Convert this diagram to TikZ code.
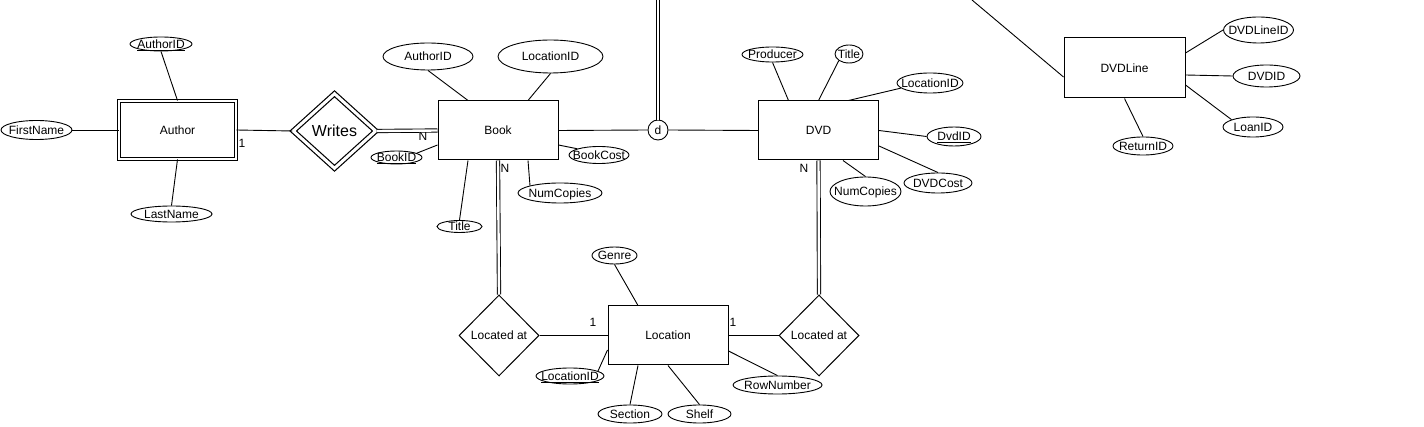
\documentclass[tikz,border=0pt]{standalone}
\usepackage{fontspec}
\setmainfont{Liberation Sans}
\usetikzlibrary{shapes.geometric}
\newcommand\ertxt[1]{\makebox[0pt]{\raisebox{-0.36em}[0pt][0pt]{#1}}}
\begin{document}
\begin{tikzpicture}[x=1pt,y=-1pt,
  every node/.style={font=\fontsize{12}{14}\selectfont},
  ent/.style={draw, rectangle, minimum width=120, minimum height=59, inner sep=0, line width=1pt},
  went/.style={ent, double, double distance=2pt, line width=0.9pt, minimum width=117, minimum height=58},
  attr/.style={draw, ellipse, inner sep=0, line width=0.9pt},
  rel/.style={draw, diamond, inner sep=0, minimum width=80, minimum height=81, line width=1pt},
  wrel/.style={draw, diamond, inner sep=0, double, double distance=3pt, line width=1.2pt, minimum width=83, minimum height=75, font=\fontsize{16}{18}\selectfont},
  conn/.style={line width=0.9pt},
  dconn/.style={line width=0.9pt, double, double distance=2.4pt},
  card/.style={inner sep=0}]
\fill[white] (0,0) rectangle (1424,427);
\useasboundingbox (0,0) rectangle (1424,427);

% Author
\node[went] (author) at (177.5,130) {Author};
\node[attr, minimum width=62, minimum height=14] (aid1) at (161,44) {\ertxt{\underline{AuthorID}}};
\node[attr, minimum width=71, minimum height=19] (fname) at (36.5,130) {\ertxt{FirstName}};
\node[attr, minimum width=81, minimum height=16] (lname) at (171.5,214) {\ertxt{LastName}};

% Writes
\node[wrel] (writes) at (334.5,131) {Writes};

% Book
\node[ent] (book) at (498,130.5) {Book};
\node[attr, minimum width=90, minimum height=27] (aid2) at (428,56.5) {\ertxt{AuthorID}};
\node[attr, minimum width=105, minimum height=33] (locid1) at (550.5,56.5) {\ertxt{LocationID}};
\node[attr, minimum width=51, minimum height=13] (bookid) at (396.5,157.5) {\ertxt{\underline{BookID}}};
\node[attr, minimum width=60, minimum height=17] (bookcost) at (599,155) {\ertxt{BookCost}};
\node[attr, minimum width=84, minimum height=20] (numc1) at (560,193) {\ertxt{NumCopies}};
\node[attr, minimum width=45, minimum height=12] (title1) at (459.5,226.5) {\ertxt{Title}};

% disjoint circle
\node[draw, circle, minimum size=20, inner sep=0, line width=0.9pt] (dcirc) at (658,130) {d};
\coordinate (top1) at (658,0);

% DVD
\node[ent] (dvd) at (818.5,130.5) {DVD};
\node[attr, minimum width=61, minimum height=15] (producer) at (772.5,54.5) {\ertxt{Producer}};
\node[attr, minimum width=28, minimum height=18] (title2) at (849,54) {\ertxt{Title}};
\node[attr, minimum width=66, minimum height=20] (locid2) at (930,83) {\ertxt{LocationID}};
\node[attr, minimum width=54, minimum height=19] (dvdid) at (954,136.5) {\ertxt{\underline{DvdID}}};
\node[attr, minimum width=68, minimum height=20] (dvdcost) at (938,183) {\ertxt{DVDCost}};
\node[attr, minimum width=71, minimum height=29] (numc2) at (865.5,191.5) {\ertxt{NumCopies}};

% DVDLine
\node[ent, minimum width=121, minimum height=60] (dvdline) at (1124.5,68) {DVDLine};
\coordinate (top2) at (972,0);
\node[attr, minimum width=70, minimum height=26] (dvdlid) at (1258.5,30) {\ertxt{DVDLineID}};
\node[attr, minimum width=67, minimum height=22] (dvdid2) at (1266.5,76) {\ertxt{DVDID}};
\node[attr, minimum width=60, minimum height=20] (loanid) at (1253,127) {\ertxt{LoanID}};
\node[attr, minimum width=60, minimum height=18] (returnid) at (1143,146) {\ertxt{ReturnID}};

% Location
\node[rel] (locat1) at (499,335.5) {Located at};
\node[ent] (location) at (668,335.5) {Location};
\node[rel] (locat2) at (819,335.5) {Located at};
\node[attr, minimum width=45, minimum height=17] (genre) at (614.5,255.5) {\ertxt{Genre}};
\node[attr, minimum width=68, minimum height=16] (locid3) at (570,376) {\ertxt{\underline{LocationID}}};
\node[attr, minimum width=64, minimum height=18] (section) at (630,414) {\ertxt{Section}};
\node[attr, minimum width=63, minimum height=18] (shelf) at (699.5,414) {\ertxt{Shelf}};
\node[attr, minimum width=89, minimum height=18] (rownum) at (777.5,385) {\ertxt{RowNumber}};

% cardinalities
\node[card] (c1) at (242,143.5) {1};
\node[card] (c2) at (423,136) {N};
\node[card] (c3) at (505,168) {N};
\node[card] (c4) at (804,168) {N};
\node[card] (c5) at (593,322) {1};
\node[card] (c6) at (733,322) {1};

% connectors: Author
\draw[conn] (aid1.south) -- (author.north);
\draw[conn] (fname.east) -- (author.west);
\draw[conn] (lname.north) -- (author.south);
\draw[conn] (author.east) -- (writes.west);
\draw[dconn] (writes.east) -- (book.west);

% Book
\draw[conn] (aid2.south) -- ([xshift=-30pt]book.north);
\draw[conn] (locid1.south) -- ([xshift=30pt]book.north);
\draw[conn] ([yshift=-14.5pt]book.west) -- (bookid.12);
\draw[conn] ([yshift=-14.5pt]book.east) -- (bookcost.164);
\draw[conn] ([xshift=30pt]book.south) -- (numc1.north west);
\draw[conn] ([xshift=-30pt]book.south) -- (title1.north);
\draw[dconn] (book.south) -- (locat1.north);
\draw[conn] (book.east) -- (dcirc.west);
\draw[dconn] (dcirc.north) -- (top1);
\draw[conn] (dcirc.east) -- (dvd.west);

% DVD
\draw[conn] (producer.south) -- ([xshift=-30pt]dvd.north);
\draw[conn] (title2.south west) -- (dvd.north);
\draw[conn] ([xshift=30pt]dvd.north) -- (locid2.190);
\draw[conn] (dvd.east) -- (dvdid.west);
\draw[conn] ([yshift=-15.5pt]dvd.east) -- (dvdcost.north);
\draw[conn] ([xshift=24.5pt]dvd.south) -- (numc2.north);
\draw[dconn] (dvd.south) -- (locat2.north);

% DVDLine
\draw[conn] (top2) -- ([yshift=-9pt]dvdline.west);
\draw[conn] ([yshift=15pt]dvdline.east) -- (dvdlid.west);
\draw[conn] ([yshift=-7pt]dvdline.east) -- (dvdid2.west);
\draw[conn] ([yshift=-17pt]dvdline.east) -- (loanid.north west);
\draw[conn] (dvdline.south) -- (returnid.north);

% Location
\draw[conn] (locat1.east) -- (location.west);
\draw[conn] (location.east) -- (locat2.west);
\draw[conn] (genre.south) -- ([xshift=-30pt]location.north);
\draw[conn] ([yshift=-14.5pt]location.west) -- (locid3.10);
\draw[conn] ([xshift=-30pt]location.south) -- (section.north);
\draw[conn] (location.south) -- (shelf.north);
\draw[conn] ([yshift=-15.5pt]location.east) -- (rownum.north);
\end{tikzpicture}
\end{document}
